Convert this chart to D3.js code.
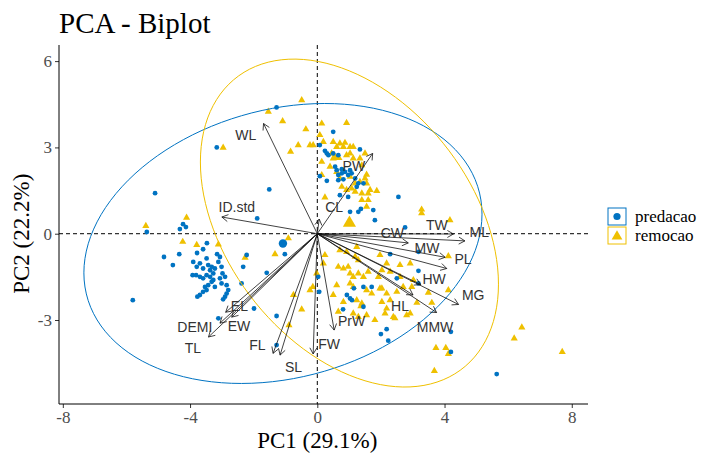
<!DOCTYPE html>
<html>
<head>
<meta charset="utf-8">
<script src="https://cdn.jsdelivr.net/npm/d3@7"></script>
<style>
  body { margin: 0; background: #fff; }
  svg { display: block; }
</style>
</head>
<body>
<svg id="chart" width="707" height="453"></svg>
<script>
// individuals (PC1, PC2)
const predacaoPC1 = [-5.10,-5.36,-4.32,-4.22,-4.13,-4.82,-4.54,-4.34,-5.80,-3.78,-3.59,-3.47,-3.15,-3.06,
  -3.90,-3.79,-3.69,-3.59,-3.48,-3.43,-3.37,-3.32,-3.27,-3.22,-3.11,-3.01,-2.98,-2.90,-3.06,-3.27,-3.37,-3.48,
  -3.59,-3.69,-3.81,-3.92,-3.53,-3.43,-3.32,-3.22,-3.01,-2.85,-2.80,-3.48,-3.59,-3.69,-3.77,-2.90,-2.85,-2.96,
  -2.22,-2.33,-1.59,-2.38,-1.99,-3.11,-1.28,-1.02,-1.28,0.03,0.06,-1.28,-3.16,-1.51,-1.89,
  0.81,1.03,1.15,1.45,1.71,0.93,1.09,1.45,2.00,2.18,2.23,4.20,4.20,5.64,2.29,3.18,3.18,3.18,2.50,
  0.50,0.08,0.24,0.30,0.35,0.50,0.66,1.34,0.56,0.61,0.77,0.87,1.03,1.08,0.97,0.77,0.66,0.08,0.30,0.66,
  0.82,1.19,1.29,1.45,1.24,0.71,0.97,2.55,1.03,1.29,1.37,1.76,1.81,2.76];
const predacaoPC2 = [1.41,0.06,0.16,0.33,0.23,-0.81,-1.09,-0.71,-2.31,-0.67,-0.54,-0.33,-0.71,-0.81,
  -0.98,-1.15,-1.03,-1.21,-0.86,-1.09,-1.27,-1.15,-1.38,-1.21,-0.98,-1.15,-1.38,-1.50,-1.55,-1.61,-1.50,-1.44,
  -1.55,-1.50,-1.44,-1.44,-1.85,-1.79,-1.67,-1.85,-1.73,-1.79,-1.96,-1.96,-2.02,-2.13,-2.19,-2.19,-2.08,-2.28,
  -0.74,-1.15,-1.36,-1.73,-2.60,-2.94,-2.86,-0.71,-3.87,-1.50,-2.02,4.39,3.00,1.54,0.53,
  -2.63,-2.25,-1.90,-1.85,-1.85,-2.13,-2.31,-2.54,-3.49,-3.32,-3.72,-3.41,-4.11,-4.88,-0.71,-0.63,-1.29,-1.73,-1.55,
  3.54,3.08,2.88,2.79,2.73,2.79,2.73,2.93,2.33,2.21,2.24,2.15,2.21,2.10,2.04,2.10,2.04,2.00,1.84,1.86,
  1.89,1.92,1.75,1.75,1.63,1.34,1.28,1.28,0.76,0.76,0.86,0.82,0.47,0.22];

const remocaoPC1 = [-5.39,-4.11,-4.23,-3.79,-3.11,-2.96,-2.27,-1.33,-0.91,-0.02,-0.23,-0.14,-0.49,-0.89,-0.75,
  -0.49,-1.09,-1.54,-0.36,-0.60,-0.84,-0.23,-0.13,0.14,0.08,0.14,0.40,0.92,0.19,0.50,0.61,0.71,0.82,0.87,
  0.45,0.50,0.56,0.68,0.92,1.03,1.13,1.34,1.50,1.40,0.14,0.61,0.71,1.03,1.19,1.34,1.50,0.92,1.08,1.19,
  1.55,1.66,1.87,1.40,1.55,0.24,1.03,1.13,1.55,0.77,1.40,1.60,1.60,3.28,3.28,4.17,
  0.24,0.71,0.92,1.24,1.19,1.29,0.66,0.82,0.97,1.03,1.13,1.29,1.45,1.60,1.97,2.18,2.03,1.92,1.03,1.13,
  1.55,1.71,2.03,2.18,2.50,2.29,2.03,1.24,1.40,0.82,0.50,0.66,1.13,1.29,1.55,1.81,2.13,2.39,2.81,2.92,
  3.13,3.02,2.60,2.70,2.92,2.60,2.29,0.19,0.61,1.37,2.18,2.44,3.60,3.73,4.04,4.12,3.68,6.19,6.43,7.70,
  1.97,2.97,3.49,4.12,4.12];
const remocaoPC2 = [0.27,0.56,-0.28,-0.39,-0.37,2.99,-0.83,-0.71,-0.16,-1.38,-1.96,-1.85,-2.63,-3.18,-2.13,
  4.64,3.91,4.24,3.63,3.08,2.85,3.08,3.08,3.83,3.43,2.50,2.33,3.85,3.19,3.19,3.02,3.14,3.02,3.16,
  2.79,2.62,2.67,2.63,2.73,2.79,2.62,2.62,2.79,2.38,2.04,2.15,1.92,1.98,1.75,1.80,1.92,1.52,1.57,1.46,
  1.75,1.52,1.49,1.17,0.94,1.26,3.02,3.02,2.05,1.63,1.40,1.40,1.17,0.84,0.71,0.47,
  -0.74,-0.57,-0.63,-0.46,-0.80,-0.92,-1.15,-1.21,-1.15,-1.38,-1.50,-1.38,-1.50,-1.32,-0.74,-1.03,-1.27,-1.50,-1.73,-1.85,
  -1.96,-2.08,-1.90,-2.08,-2.02,-2.31,-2.37,-2.31,-2.42,-2.37,-2.13,-2.71,-2.77,-2.89,-2.83,-3.00,-2.77,-2.89,-2.83,-2.77,
  -2.40,-1.61,-1.50,-1.85,-1.03,-1.09,-1.32,-1.03,-1.79,-2.52,-2.60,-2.94,-2.40,-3.97,-3.97,-4.18,-4.77,-3.64,-3.26,-4.11,
  -1.90,-1.85,-2.05,-1.96,-0.78];

// group means and ellipse shape (variance PC1, variance PC2, covariance), in PC units
const groupNames = ["predacao", "remocao"];
const groupColors = ["#0073C2", "#EFC000"];
const meanPC1 = [-1.08, 1.01];
const meanPC2 = [-0.34, 0.37];
const ellipseVarPC1 = [39.16, 21.95];
const ellipseVarPC2 = [23.68, 32.49];
const ellipseCov = [6.39, -9.95];

// variables (arrow tips) and where their labels sit
const varNames = ["WL","PW","CL","ID.std","TW","ML","CW","MW","PL","HW","MG","HL","MMW",
  "EL","EW","DEMI","TL","FL","SL","FW","PrW"];
const varPC1 = [-1.69,1.74,0.06,-3.00,4.28,4.64,2.86,4.02,4.07,3.25,4.44,3.01,3.75,
  -2.88,-2.69,-3.06,-3.42,-1.39,-1.17,-0.13,0.53];
const varPC2 = [3.83,2.79,0.51,0.58,-0.01,-0.25,-0.32,-0.82,-1.21,-1.77,-2.46,-2.13,-2.74,
  -2.73,-2.90,-3.11,-3.59,-4.16,-4.22,-4.18,-3.35];
const labelPC1 = [-2.25,1.15,0.53,-2.53,3.76,5.09,2.36,3.45,4.58,3.67,4.90,2.60,3.70,
  -2.45,-2.46,-3.85,-3.91,-1.88,-0.75,0.37,1.08];
const labelPC2 = [3.43,2.35,0.92,0.92,0.30,0.06,0.02,-0.50,-0.88,-1.58,-2.13,-2.52,-3.25,
  -2.52,-3.21,-3.25,-3.98,-3.87,-4.64,-3.84,-3.02];

const xTicks = [-8, -4, 0, 4, 8];
const yTicks = [-3, 0, 3, 6];

const svg = d3.select("#chart");
const margin = {top: 45, right: 119, bottom: 49, left: 59};
const width = 707 - margin.left - margin.right;
const height = 453 - margin.top - margin.bottom;

const x = d3.scaleLinear().domain([-8.12, 8.51]).range([0, width]);
const y = d3.scaleLinear().domain([-5.92, 6.56]).range([height, 0]);

const g = svg.append("g").attr("transform", "translate(" + margin.left + "," + margin.top + ")");

// title
svg.append("text")
  .attr("x", 59).attr("y", 33)
  .style("font-family", "'Liberation Serif', 'Times New Roman', serif")
  .style("font-size", "29px")
  .attr("fill", "#000")
  .text("PCA - Biplot");

// dashed zero lines
g.append("line")
  .attr("x1", 0).attr("x2", width).attr("y1", y(0)).attr("y2", y(0))
  .attr("stroke", "#000").attr("stroke-dasharray", "4,3");
g.append("line")
  .attr("x1", x(0)).attr("x2", x(0)).attr("y1", 0).attr("y2", height)
  .attr("stroke", "#000").attr("stroke-dasharray", "4,3");

// points
const remocao = remocaoPC1.map((v, i) => ({pc1: v, pc2: remocaoPC2[i]}));
const predacao = predacaoPC1.map((v, i) => ({pc1: v, pc2: predacaoPC2[i]}));

const tri = d3.symbol().type(d3.symbolTriangle).size(22);
g.selectAll("path.remocao")
  .data(remocao)
  .enter().append("path")
  .attr("class", "remocao")
  .attr("d", tri)
  .attr("transform", (d) => "translate(" + x(d.pc1) + "," + y(d.pc2) + ")")
  .attr("fill", groupColors[1]);

g.selectAll("circle.predacao")
  .data(predacao)
  .enter().append("circle")
  .attr("class", "predacao")
  .attr("cx", (d) => x(d.pc1))
  .attr("cy", (d) => y(d.pc2))
  .attr("r", 2.4)
  .attr("fill", groupColors[0]);

// ellipses
const ellipseLine = d3.line().x((d) => x(d[0])).y((d) => y(d[1]));
groupNames.forEach((name, k) => {
  const a = ellipseVarPC1[k], b = ellipseVarPC2[k], c = ellipseCov[k];
  const l11 = Math.sqrt(a), l21 = c / l11, l22 = Math.sqrt(b - l21 * l21);
  const pts = d3.range(0, 361, 3).map((deg) => {
    const t = deg * Math.PI / 180;
    return [meanPC1[k] + l11 * Math.cos(t), meanPC2[k] + l21 * Math.cos(t) + l22 * Math.sin(t)];
  });
  g.append("path")
    .datum(pts)
    .attr("d", ellipseLine)
    .attr("fill", "none")
    .attr("stroke", groupColors[k])
    .attr("stroke-width", 1);
});

// group mean points
g.append("circle")
  .attr("cx", x(meanPC1[0])).attr("cy", y(meanPC2[0]))
  .attr("r", 4.2).attr("fill", groupColors[0]);
g.append("path")
  .attr("d", d3.symbol().type(d3.symbolTriangle).size(75))
  .attr("transform", "translate(" + x(meanPC1[1]) + "," + y(meanPC2[1]) + ")")
  .attr("fill", groupColors[1]);

// variable arrows
const headLen = 7, headAng = Math.PI / 6;
varNames.forEach((name, i) => {
  const x1 = x(0), y1 = y(0), x2 = x(varPC1[i]), y2 = y(varPC2[i]);
  const ang = Math.atan2(y2 - y1, x2 - x1);
  g.append("line")
    .attr("x1", x1).attr("y1", y1).attr("x2", x2).attr("y2", y2)
    .attr("stroke", "#111").attr("stroke-width", 0.8);
  g.append("path")
    .attr("d", "M" + (x2 - headLen * Math.cos(ang - headAng)) + "," + (y2 - headLen * Math.sin(ang - headAng)) +
      "L" + x2 + "," + y2 +
      "L" + (x2 - headLen * Math.cos(ang + headAng)) + "," + (y2 - headLen * Math.sin(ang + headAng)))
    .attr("fill", "none").attr("stroke", "#111").attr("stroke-width", 0.8);
});

g.selectAll("text.var")
  .data(varNames)
  .enter().append("text")
  .attr("class", "var")
  .attr("x", (d, i) => x(labelPC1[i]))
  .attr("y", (d, i) => y(labelPC2[i]))
  .attr("text-anchor", "middle")
  .attr("dominant-baseline", "central")
  .style("font-family", "'Liberation Sans', Arial, sans-serif")
  .style("font-size", "14px")
  .attr("fill", "#333")
  .text((d) => d);

// axes
const xAxis = d3.axisBottom(x).tickValues(xTicks).tickSize(4).tickPadding(3).tickFormat(d3.format("d"));
const yAxis = d3.axisLeft(y).tickValues(yTicks).tickSize(4).tickPadding(3).tickFormat(d3.format("d"));

const gx = g.append("g").attr("transform", "translate(0," + height + ")").call(xAxis);
const gy = g.append("g").call(yAxis);
[gx, gy].forEach((ax) => {
  ax.selectAll(".tick line").attr("stroke", "#333");
  ax.selectAll(".tick text")
    .attr("fill", "#4D4D4D")
    .style("font-family", "'Liberation Serif', 'Times New Roman', serif")
    .style("font-size", "17px")
    .text((d) => d < 0 ? "-" + Math.abs(d) : d);
});
gx.select(".domain").remove();
gy.select(".domain").remove();
g.append("line").attr("x1", 0).attr("x2", width).attr("y1", height).attr("y2", height).attr("stroke", "#000");
g.append("line").attr("x1", 0).attr("x2", 0).attr("y1", 0).attr("y2", height).attr("stroke", "#000");

// axis titles
svg.append("text")
  .attr("x", margin.left + x(0)).attr("y", 448)
  .attr("text-anchor", "middle")
  .style("font-family", "'Liberation Serif', 'Times New Roman', serif")
  .style("font-size", "23px")
  .text("PC1 (29.1%)");
svg.append("text")
  .attr("transform", "translate(29," + (margin.top + y(0)) + ") rotate(-90)")
  .attr("text-anchor", "middle")
  .style("font-family", "'Liberation Serif', 'Times New Roman', serif")
  .style("font-size", "23px")
  .text("PC2 (22.2%)");

// legend
const legend = svg.append("g").attr("transform", "translate(608,208)");
groupNames.forEach((name, k) => {
  const row = legend.append("g").attr("transform", "translate(0," + (k * 19) + ")");
  row.append("rect")
    .attr("x", 0).attr("y", 0).attr("width", 18).attr("height", 17)
    .attr("fill", "#fff").attr("stroke", groupColors[k]).attr("stroke-width", 1);
  if (k === 0) {
    row.append("circle").attr("cx", 9).attr("cy", 8.5).attr("r", 3.6).attr("fill", groupColors[k]);
  } else {
    row.append("path")
      .attr("d", d3.symbol().type(d3.symbolTriangle).size(50))
      .attr("transform", "translate(9,9.5)")
      .attr("fill", groupColors[k]);
  }
  row.append("text")
    .attr("x", 27).attr("y", 8.5)
    .attr("dominant-baseline", "central")
    .style("font-family", "'Liberation Serif', 'Times New Roman', serif")
    .style("font-size", "17px")
    .text(name);
});
</script>
</body>
</html>
